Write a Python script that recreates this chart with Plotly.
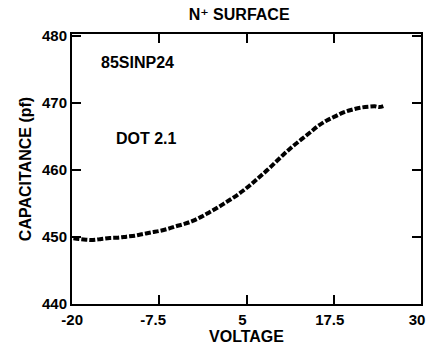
import plotly.graph_objects as go

voltage = [-19.8, -19.0, -18.0, -17.0, -15.8, -14.6, -13.4, -12.2, -11.0, -9.8, -8.6, -7.5,
           -6.3, -5.1, -3.9, -2.7, -1.5, -0.3, 0.9, 2.1, 3.3, 4.5, 5.7, 6.9, 8.1, 9.3,
           10.5, 11.7, 12.9, 14.1, 15.3, 16.5, 17.7, 18.9, 20.1, 21.3, 22.5, 23.4, 24.0, 24.6]
capacitance = [449.8, 449.7, 449.6, 449.55, 449.7, 449.85, 449.9, 450.05, 450.2, 450.45, 450.7, 450.9,
               451.2, 451.6, 451.95, 452.4, 453.0, 453.7, 454.4, 455.2, 456.0, 456.9, 457.9, 459.0,
               460.1, 461.3, 462.5, 463.6, 464.6, 465.6, 466.6, 467.4, 468.0, 468.6, 469.0, 469.3,
               469.45, 469.5, 469.4, 469.55]

x_ticks = [-20, -7.5, 5, 17.5, 30]
x_tick_labels = ["\u00a0\u00a0-20", "-7.5\u00a0", "5", "17.5", "30"]
y_ticks = [440, 450, 460, 470, 480]

FONT = "Liberation Sans, DejaVu Sans"

fig = go.Figure()
fig.add_trace(go.Scatter(
    x=voltage, y=capacitance, mode="lines",
    line=dict(color="black", width=4, dash="6px,2px", shape="spline"),
    showlegend=False,
))

tickfont = dict(family=FONT, size=15, color="black", weight="bold")
axis_common = dict(
    showline=True, linecolor="black", linewidth=2, mirror="ticks",
    ticks="inside", ticklen=9, tickwidth=2, tickcolor="black",
    showgrid=False, zeroline=False, automargin=False,
    tickfont=tickfont,
)

fig.update_layout(
    width=427, height=354,
    margin=dict(l=72, r=6, t=34, b=50),
    paper_bgcolor="white", plot_bgcolor="white",
    title=dict(text="N⁺ SURFACE", x=0.56, xanchor="center", y=0.958, yanchor="middle",
               font=dict(family=FONT, size=16, color="black", weight="bold")),
    xaxis=dict(range=[-20, 30], tickvals=x_ticks, ticktext=x_tick_labels,
               ticklabeloverflow="allow", ticklabelshift=-4, ticklabelstandoff=1,
               title=dict(text="VOLTAGE", standoff=4,
                          font=dict(family=FONT, size=16, color="black", weight="bold")),
               **axis_common),
    yaxis=dict(range=[440, 480.3], tickvals=y_ticks,
               title=dict(text="CAPACITANCE (pf)", standoff=6,
                          font=dict(family=FONT, size=16, color="black", weight="bold")),
               **axis_common),
    annotations=[
        dict(text="85SINP24", x=-16.1, y=476.0, xref="x", yref="y", xanchor="left", yanchor="middle",
             showarrow=False, font=dict(family=FONT, size=16, color="black", weight="bold")),
        dict(text="DOT 2.1", x=-14.0, y=464.7, xref="x", yref="y", xanchor="left", yanchor="middle",
             showarrow=False, font=dict(family=FONT, size=16, color="black", weight="bold")),
    ],
)

fig.write_html("out.html")
